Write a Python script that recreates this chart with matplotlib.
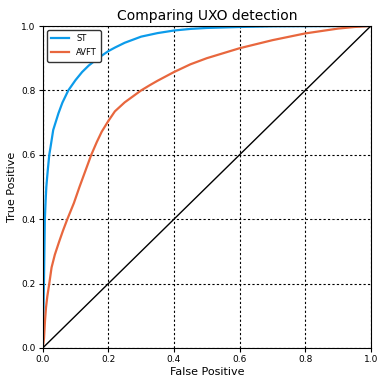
"""
ROC comparison of the ST and AVFT detectors for UXO.
"""

import matplotlib
matplotlib.use("Agg")
import matplotlib.pyplot as plt

# ST curve (false positive rate, true positive rate)
st_fpr = [0.0, 0.002, 0.004, 0.0065, 0.009, 0.011, 0.0135, 0.0157, 0.02, 0.024,
          0.032, 0.048, 0.06, 0.078, 0.1, 0.12, 0.14, 0.16, 0.18, 0.2,
          0.22, 0.25, 0.3, 0.35, 0.4, 0.45, 0.5, 0.6, 0.7, 0.8, 1.0]
st_tpr = [0.0, 0.1, 0.22, 0.4, 0.46, 0.5, 0.53, 0.555, 0.6, 0.625,
          0.677, 0.729, 0.762, 0.8, 0.832, 0.857, 0.877, 0.893, 0.908, 0.922,
          0.933, 0.948, 0.967, 0.978, 0.986, 0.991, 0.994, 0.997, 0.999, 0.9995, 1.0]

# AVFT curve
avft_fpr = [0.0, 0.004, 0.007, 0.01, 0.014, 0.02, 0.027, 0.037, 0.05, 0.062,
            0.075, 0.095, 0.112, 0.13, 0.148, 0.165, 0.18, 0.2, 0.22,
            0.25, 0.3, 0.326, 0.35, 0.4, 0.45, 0.5, 0.6, 0.7, 0.8, 0.9, 0.95, 1.0]
avft_tpr = [0.0, 0.03, 0.085, 0.125, 0.16, 0.2, 0.25, 0.29, 0.33, 0.365,
            0.4, 0.45, 0.5, 0.55, 0.6, 0.64, 0.672, 0.705, 0.735,
            0.763, 0.8, 0.816, 0.83, 0.857, 0.881, 0.9, 0.931, 0.956, 0.977, 0.992, 0.997, 1.0]

ticks = [0.0, 0.2, 0.4, 0.6, 0.8, 1.0]


fig = plt.figure(figsize=(3.78, 3.77), dpi=100)
ax = fig.add_axes([0.113, 0.077, 0.868, 0.854])

ax.plot(st_fpr, st_tpr, color="#0c9bea", lw=1.6, label="ST")
ax.plot(avft_fpr, avft_tpr, color="#e8673e", lw=1.6, label="AVFT")
ax.plot([0, 1], [0, 1], color="black", lw=1)

ax.set_xlim(0, 1)
ax.set_ylim(0, 1)
ax.set_xticks(ticks)
ax.set_yticks(ticks)
ax.set_xticklabels([f"{t:.1f}" for t in ticks])
ax.set_yticklabels([f"{t:.1f}" for t in ticks])
ax.tick_params(labelsize=6.5, length=3, width=0.8, pad=2)
ax.grid(True, color="black", ls=(0, (2, 2)), lw=0.8)

ax.set_title("Comparing UXO detection", fontsize=10, pad=4)
ax.set_xlabel("False Positive", fontsize=8, labelpad=2)
ax.set_ylabel("True Positive", fontsize=8, labelpad=3)

leg = ax.legend(loc="upper left", fontsize=6, handlelength=2.2, fancybox=True,
                framealpha=1, borderpad=0.5, labelspacing=0.6)
leg.get_frame().set_edgecolor("#333333")

fig.savefig("out.png", dpi=100)
